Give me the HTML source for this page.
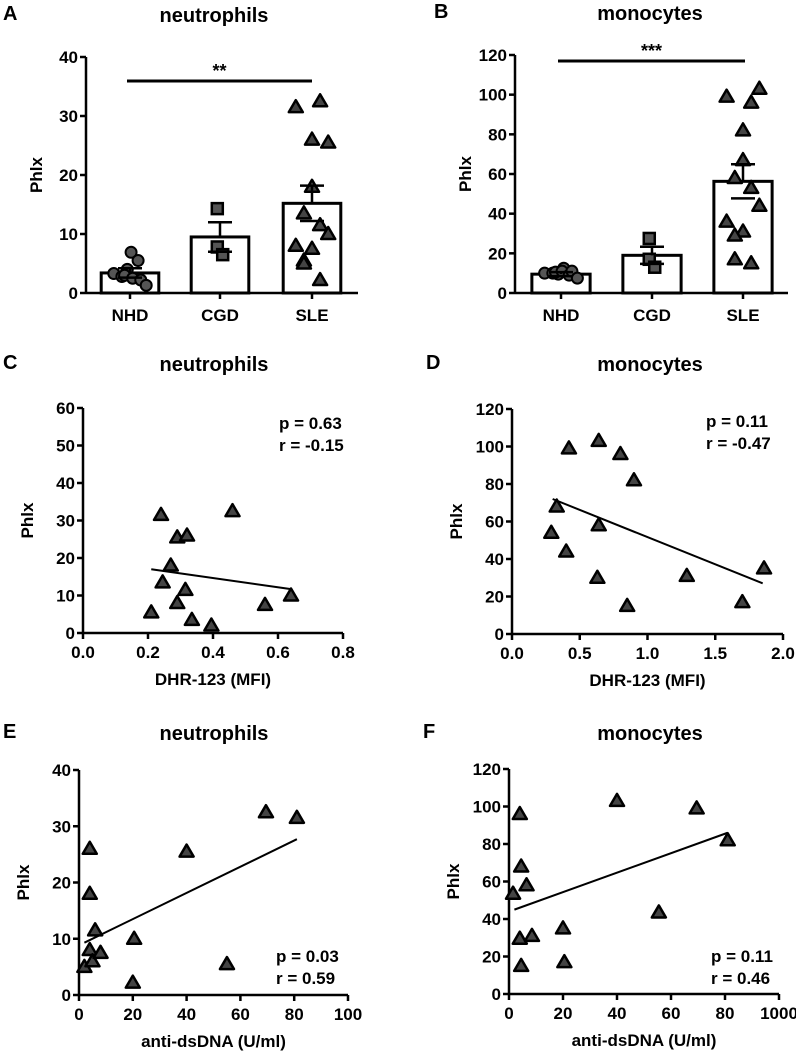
<!DOCTYPE html>
<html><head><meta charset="utf-8"><style>
body{margin:0;background:#fff}
svg{display:block;font-family:"Liberation Sans",Arial,sans-serif;font-weight:bold}
</style></head><body>
<svg id="s" width="796" height="1054" viewBox="0 0 796 1054" xmlns="http://www.w3.org/2000/svg"></svg>
<script>
const cats=["NHD","CGD","SLE"];
const aNHD=[3.3,2.8,4,3,2.5,6.9,5.5,2.2,1.3];
const aCGD=[14.3,7.8,6.5];
const aSLE=[31.5,32.5,25.5,26,18,13.5,11.5,10,8,7.5,5.5,5,2.2];
const aMean=[3.4,9.5,15.2];
const aSem=[0.8,2.5,3];
const bNHD=[10,10,9.5,10.5,12.5,11,9,11,7.5];
const bCGD=[27.5,17,13];
const bSLE=[99,96,103,82,67,58,53,44,36,31,29,17,15];
const bMean=[9.5,19,56.3];
const bSem=[1,4.3,8.6];
const jNHD=[-0.3,-0.15,-0.05,-0.1,0.05,0.02,0.15,0.2,0.3];
const jCGD=[-0.05,-0.05,0.05];
const jSLE=[-0.3,0.15,0.3,0,0,-0.15,0.15,0.3,-0.3,0,-0.15,-0.15,0.15];
const cX=[0.21,0.24,0.245,0.27,0.29,0.32,0.29,0.315,0.335,0.395,0.46,0.56,0.64];
const cY=[5.5,31.5,13.5,18,25.5,26,8,11.5,3.5,2,32.5,7.5,10];
const dX=[0.29,0.33,0.40,0.42,0.63,0.64,0.64,0.80,0.85,0.90,1.29,1.70,1.86];
const dY=[54,68,44,99,30,58,103,96,15,82,31,17,35];
const eX=[2,4,4,4,5,6,8,20,20.5,40,55,69.5,81];
const eY=[5,26,18,8,6,11.5,7.5,2.2,10,25.5,5.5,32.5,31.5];
const fX=[1.5,4,4.5,4,4.5,6.5,8.5,20,20.5,40,55.5,69.5,81];
const fY=[53.5,96,68,29.5,15,58,31,35,17,103,43.5,99,82];
const S=document.getElementById('s');
function el(t,a,txt){const e=document.createElementNS('http://www.w3.org/2000/svg',t);for(const k in a)e.setAttribute(k,a[k]);if(txt!=null)e.textContent=txt;S.appendChild(e);return e;}
function tri(x,y,nm){const e=el('path',{d:`M${x},${y-7}L${x+7},${y+5}L${x-7},${y+5}Z`,fill:'#444',stroke:'#000','stroke-width':2.5,'stroke-linejoin':'round'});

}
function circ(x,y,nm){const e=el('circle',{cx:x,cy:y,r:5.5,fill:'#555',stroke:'#000','stroke-width':2});

}
function sq(x,y,nm){const e=el('rect',{x:x-5.5,y:y-5.5,width:11,height:11,fill:'#555',stroke:'#000','stroke-width':2.5});

}
function header(letter,lx,title,tx,ty){
const a=el('text',{x:lx,y:ty,'font-size':20},letter);
const t=el('text',{x:tx,y:ty+2,'font-size':20,'text-anchor':'middle'},title);}
function yaxis(x0,yb,yt,max,step,label,lx){
const ys=v=>yb-(yb-yt)*v/max;
const l=el('line',{x1:x0,y1:yt,x2:x0,y2:yb,stroke:'#000','stroke-width':2.5});
for(let v=0;v<=max+1e-9;v+=step){el('line',{x1:x0-6,y1:ys(v),x2:x0,y2:ys(v),stroke:'#000','stroke-width':2.5});
const t=el('text',{x:x0-8,y:ys(v)+6,'font-size':17,'text-anchor':'end'},String(v));}
const yl=el('text',{x:0,y:0,'font-size':17,'text-anchor':'middle',transform:`translate(${lx},${(yb+yt)/2}) rotate(-90)`},label);
return ys;}
function barPanel(x0,x1,yb,yt,max,step,cx,mean,sem,groups,jit,sig,sigY,sigX){
const ys=yaxis(x0,yb,yt,max,step,'Phlx',x0-44);
const ax=el('line',{x1:x0,y1:yb,x2:x1,y2:yb,stroke:'#000','stroke-width':2.5});
const bw=(cx[1]-cx[0])*0.64, sp=cx[1]-cx[0];
cats.forEach((c,i)=>{
el('line',{x1:cx[i],y1:yb,x2:cx[i],y2:yb+6,stroke:'#000','stroke-width':2.5});
const t=el('text',{x:cx[i],y:yb+28,'font-size':17,'text-anchor':'middle'},c);
const b=el('rect',{x:cx[i]-bw/2,y:ys(mean[i]),width:bw,height:yb-ys(mean[i]),fill:'#fff',stroke:'#000','stroke-width':3});
const vals=groups[i];
vals.forEach((v,k)=>{const px=cx[i]+jit[i][k]*sp*0.6,py=ys(v);if(i==0)circ(px,py,'point-nhd');else if(i==1)sq(px,py,'point-cgd');else tri(px,py,'point-sle');});
const e=el('path',{d:`M${cx[i]},${ys(mean[i])}V${ys(mean[i]+sem[i])}M${cx[i]-12},${ys(mean[i]+sem[i])}H${cx[i]+12}M${cx[i]-12},${ys(mean[i]-sem[i])}H${cx[i]+12}`,stroke:'#000','stroke-width':2.5,fill:'none'});
});
const sl=el('line',{x1:sigX[0],y1:sigY,x2:sigX[1],y2:sigY,stroke:'#000','stroke-width':3});
const st=el('text',{x:(sigX[0]+sigX[1])/2,y:sigY-4,'font-size':18,'text-anchor':'middle'},sig);}
function scatter(x0,x1,yb,yt,xmax,xstep,xdec,ymax,ystep,xs,ysv,fit,xlabel,p,r,statPos,xtl){
const ys=yaxis(x0,yb,yt,ymax,ystep,'Phlx',x0-50);
const xsc=v=>x0+(x1-x0)*v/xmax;
const ax=el('line',{x1:x0,y1:yb,x2:x1,y2:yb,stroke:'#000','stroke-width':2.5});
for(let v=0;v<=xmax+1e-9;v+=xstep){el('line',{x1:xsc(v),y1:yb,x2:xsc(v),y2:yb+6,stroke:'#000','stroke-width':2.5});
const t=el('text',{x:xsc(v),y:yb+25,'font-size':17,'text-anchor':'middle'},xtl?xtl(v):v.toFixed(xdec));}
const xl=el('text',{x:(x0+x1)/2,y:yb+52,'font-size':17,'text-anchor':'middle'},xlabel);
const f=el('line',{x1:xsc(fit[0]),y1:ys(fit[1]),x2:xsc(fit[2]),y2:ys(fit[3]),stroke:'#000','stroke-width':2});
xs.forEach((v,i)=>tri(xsc(v),ys(ysv[i]),'data-point'));
const a=el('text',{x:statPos[0],y:statPos[1],'font-size':17},p);
const b=el('text',{x:statPos[0],y:statPos[1]+22,'font-size':17},r);}
header('A',3,'neutrophils',214,20);
barPanel(86,358,293,57,40,10,[130,220,312],aMean,aSem,[aNHD,aCGD,aSLE],[jNHD,jCGD,jSLE],'**',81,[127,312]);
header('B',434,'monocytes',650,18);
barPanel(515,788,293,55,120,20,[561,652,743],bMean,bSem,[bNHD,bCGD,bSLE],[jNHD,jCGD,jSLE],'***',61,[558,745]);
header('C',3,'neutrophils',214,369);
scatter(83,343,633,408,0.8,0.2,1,60,10,cX,cY,[0.21,17,0.64,11.7],'DHR-123 (MFI)','p = 0.63','r = -0.15',[279,429]);
header('D',426,'monocytes',650,369);
scatter(512,783,634,409,2.0,0.5,1,120,20,dX,dY,[0.3,72,1.85,27],'DHR-123 (MFI)','p = 0.11','r = -0.47',[706,427]);
header('E',3,'neutrophils',214,738);
scatter(79,348,995,770,100,20,0,40,10,eX,eY,[2,9.3,81,27.7],'anti-dsDNA (U/ml)','p = 0.03','r = 0.59',[276,962],v=>String(v));
header('F',423,'monocytes',650,738);
scatter(509,779,994,769,100,20,0,120,20,fX,fY,[2,45,81,86],'anti-dsDNA (U/ml)','p = 0.11','r = 0.46',[711,962],v=>v==100?'1000':String(v));
</script>
</body></html>
